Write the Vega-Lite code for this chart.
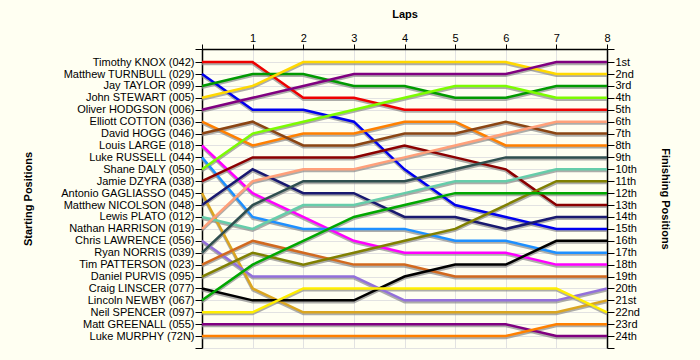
{
  "$schema": "https://vega.github.io/schema/vega-lite/v6.json",
  "autosize": "none",
  "width": 405,
  "height": 299,
  "padding": {"left": 202, "top": 49, "right": 93, "bottom": 12},
  "background": "#FFFFF2",
  "config": {
    "view": {"stroke": "#DDDDDD", "strokeWidth": 1},
    "font": "Liberation Sans",
    "axis": {
      "labelFont": "Liberation Sans",
      "labelFontSize": 11,
      "labelColor": "#000000",
      "titleFont": "Liberation Sans",
      "titleFontSize": 11,
      "titleFontWeight": "bold",
      "titleColor": "#000000",
      "domainColor": "#000000",
      "domainWidth": 1.5,
      "tickColor": "#000000",
      "tickWidth": 1,
      "gridColor": "#E2E2E2",
      "gridWidth": 1
    }
  },
  "data": {"values": [
    {"c":"042","lap":0,"pos":1},{"c":"042","lap":1,"pos":1},{"c":"042","lap":2,"pos":4},{"c":"042","lap":3,"pos":4},{"c":"042","lap":4,"pos":5},{"c":"042","lap":5,"pos":5},{"c":"042","lap":6,"pos":5},{"c":"042","lap":7,"pos":5},{"c":"042","lap":8,"pos":5},
    {"c":"029","lap":0,"pos":2},{"c":"029","lap":1,"pos":5},{"c":"029","lap":2,"pos":5},{"c":"029","lap":3,"pos":6},{"c":"029","lap":4,"pos":10},{"c":"029","lap":5,"pos":13},{"c":"029","lap":6,"pos":14},{"c":"029","lap":7,"pos":15},{"c":"029","lap":8,"pos":15},
    {"c":"099","lap":0,"pos":3},{"c":"099","lap":1,"pos":2},{"c":"099","lap":2,"pos":2},{"c":"099","lap":3,"pos":3},{"c":"099","lap":4,"pos":3},{"c":"099","lap":5,"pos":4},{"c":"099","lap":6,"pos":4},{"c":"099","lap":7,"pos":3},{"c":"099","lap":8,"pos":3},
    {"c":"005","lap":0,"pos":4},{"c":"005","lap":1,"pos":3},{"c":"005","lap":2,"pos":1},{"c":"005","lap":3,"pos":1},{"c":"005","lap":4,"pos":1},{"c":"005","lap":5,"pos":1},{"c":"005","lap":6,"pos":1},{"c":"005","lap":7,"pos":2},{"c":"005","lap":8,"pos":2},
    {"c":"006","lap":0,"pos":5},{"c":"006","lap":1,"pos":4},{"c":"006","lap":2,"pos":3},{"c":"006","lap":3,"pos":2},{"c":"006","lap":4,"pos":2},{"c":"006","lap":5,"pos":2},{"c":"006","lap":6,"pos":2},{"c":"006","lap":7,"pos":1},{"c":"006","lap":8,"pos":1},
    {"c":"036","lap":0,"pos":6},{"c":"036","lap":1,"pos":8},{"c":"036","lap":2,"pos":7},{"c":"036","lap":3,"pos":7},{"c":"036","lap":4,"pos":6},{"c":"036","lap":5,"pos":6},{"c":"036","lap":6,"pos":8},{"c":"036","lap":7,"pos":8},{"c":"036","lap":8,"pos":8},
    {"c":"046","lap":0,"pos":7},{"c":"046","lap":1,"pos":6},{"c":"046","lap":2,"pos":8},{"c":"046","lap":3,"pos":8},{"c":"046","lap":4,"pos":7},{"c":"046","lap":5,"pos":7},{"c":"046","lap":6,"pos":6},{"c":"046","lap":7,"pos":7},{"c":"046","lap":8,"pos":7},
    {"c":"018","lap":0,"pos":8},{"c":"018","lap":1,"pos":12},{"c":"018","lap":2,"pos":14},{"c":"018","lap":3,"pos":16},{"c":"018","lap":4,"pos":17},{"c":"018","lap":5,"pos":17},{"c":"018","lap":6,"pos":17},{"c":"018","lap":7,"pos":18},{"c":"018","lap":8,"pos":18},
    {"c":"044","lap":0,"pos":9},{"c":"044","lap":1,"pos":14},{"c":"044","lap":2,"pos":15},{"c":"044","lap":3,"pos":15},{"c":"044","lap":4,"pos":15},{"c":"044","lap":5,"pos":16},{"c":"044","lap":6,"pos":16},{"c":"044","lap":7,"pos":17},{"c":"044","lap":8,"pos":17},
    {"c":"050","lap":0,"pos":10},{"c":"050","lap":1,"pos":7},{"c":"050","lap":2,"pos":6},{"c":"050","lap":3,"pos":5},{"c":"050","lap":4,"pos":4},{"c":"050","lap":5,"pos":3},{"c":"050","lap":6,"pos":3},{"c":"050","lap":7,"pos":4},{"c":"050","lap":8,"pos":4},
    {"c":"038","lap":0,"pos":11},{"c":"038","lap":1,"pos":9},{"c":"038","lap":2,"pos":9},{"c":"038","lap":3,"pos":9},{"c":"038","lap":4,"pos":8},{"c":"038","lap":5,"pos":9},{"c":"038","lap":6,"pos":10},{"c":"038","lap":7,"pos":13},{"c":"038","lap":8,"pos":13},
    {"c":"045","lap":0,"pos":12},{"c":"045","lap":1,"pos":20},{"c":"045","lap":2,"pos":22},{"c":"045","lap":3,"pos":22},{"c":"045","lap":4,"pos":22},{"c":"045","lap":5,"pos":22},{"c":"045","lap":6,"pos":22},{"c":"045","lap":7,"pos":22},{"c":"045","lap":8,"pos":21},
    {"c":"048","lap":0,"pos":13},{"c":"048","lap":1,"pos":10},{"c":"048","lap":2,"pos":12},{"c":"048","lap":3,"pos":12},{"c":"048","lap":4,"pos":14},{"c":"048","lap":5,"pos":14},{"c":"048","lap":6,"pos":15},{"c":"048","lap":7,"pos":14},{"c":"048","lap":8,"pos":14},
    {"c":"012","lap":0,"pos":14},{"c":"012","lap":1,"pos":15},{"c":"012","lap":2,"pos":13},{"c":"012","lap":3,"pos":13},{"c":"012","lap":4,"pos":12},{"c":"012","lap":5,"pos":11},{"c":"012","lap":6,"pos":11},{"c":"012","lap":7,"pos":10},{"c":"012","lap":8,"pos":10},
    {"c":"019","lap":0,"pos":15},{"c":"019","lap":1,"pos":11},{"c":"019","lap":2,"pos":10},{"c":"019","lap":3,"pos":10},{"c":"019","lap":4,"pos":9},{"c":"019","lap":5,"pos":8},{"c":"019","lap":6,"pos":7},{"c":"019","lap":7,"pos":6},{"c":"019","lap":8,"pos":6},
    {"c":"056","lap":0,"pos":16},{"c":"056","lap":1,"pos":19},{"c":"056","lap":2,"pos":19},{"c":"056","lap":3,"pos":19},{"c":"056","lap":4,"pos":21},{"c":"056","lap":5,"pos":21},{"c":"056","lap":6,"pos":21},{"c":"056","lap":7,"pos":21},{"c":"056","lap":8,"pos":20},
    {"c":"039","lap":0,"pos":17},{"c":"039","lap":1,"pos":13},{"c":"039","lap":2,"pos":11},{"c":"039","lap":3,"pos":11},{"c":"039","lap":4,"pos":11},{"c":"039","lap":5,"pos":10},{"c":"039","lap":6,"pos":9},{"c":"039","lap":7,"pos":9},{"c":"039","lap":8,"pos":9},
    {"c":"023","lap":0,"pos":18},{"c":"023","lap":1,"pos":16},{"c":"023","lap":2,"pos":17},{"c":"023","lap":3,"pos":18},{"c":"023","lap":4,"pos":18},{"c":"023","lap":5,"pos":19},{"c":"023","lap":6,"pos":19},{"c":"023","lap":7,"pos":19},{"c":"023","lap":8,"pos":19},
    {"c":"095","lap":0,"pos":19},{"c":"095","lap":1,"pos":17},{"c":"095","lap":2,"pos":18},{"c":"095","lap":3,"pos":17},{"c":"095","lap":4,"pos":16},{"c":"095","lap":5,"pos":15},{"c":"095","lap":6,"pos":13},{"c":"095","lap":7,"pos":11},{"c":"095","lap":8,"pos":11},
    {"c":"077","lap":0,"pos":20},{"c":"077","lap":1,"pos":21},{"c":"077","lap":2,"pos":21},{"c":"077","lap":3,"pos":21},{"c":"077","lap":4,"pos":19},{"c":"077","lap":5,"pos":18},{"c":"077","lap":6,"pos":18},{"c":"077","lap":7,"pos":16},{"c":"077","lap":8,"pos":16},
    {"c":"067","lap":0,"pos":21},{"c":"067","lap":1,"pos":18},{"c":"067","lap":2,"pos":16},{"c":"067","lap":3,"pos":14},{"c":"067","lap":4,"pos":13},{"c":"067","lap":5,"pos":12},{"c":"067","lap":6,"pos":12},{"c":"067","lap":7,"pos":12},{"c":"067","lap":8,"pos":12},
    {"c":"097","lap":0,"pos":22},{"c":"097","lap":1,"pos":22},{"c":"097","lap":2,"pos":20},{"c":"097","lap":3,"pos":20},{"c":"097","lap":4,"pos":20},{"c":"097","lap":5,"pos":20},{"c":"097","lap":6,"pos":20},{"c":"097","lap":7,"pos":20},{"c":"097","lap":8,"pos":22},
    {"c":"055","lap":0,"pos":23},{"c":"055","lap":1,"pos":23},{"c":"055","lap":2,"pos":23},{"c":"055","lap":3,"pos":23},{"c":"055","lap":4,"pos":23},{"c":"055","lap":5,"pos":23},{"c":"055","lap":6,"pos":23},{"c":"055","lap":7,"pos":24},{"c":"055","lap":8,"pos":24},
    {"c":"72N","lap":0,"pos":24},{"c":"72N","lap":1,"pos":24},{"c":"72N","lap":2,"pos":24},{"c":"72N","lap":3,"pos":24},{"c":"72N","lap":4,"pos":24},{"c":"72N","lap":5,"pos":24},{"c":"72N","lap":6,"pos":24},{"c":"72N","lap":7,"pos":23},{"c":"72N","lap":8,"pos":23}
  ]},
  "layer": [
    {
      "mark": {"type": "line", "stroke": "#8A8A8A", "strokeWidth": 2.5, "opacity": 0.7, "yOffset": 1.8, "strokeJoin": "miter"},
      "encoding": {
        "x": {"field": "lap", "type": "quantitative", "scale": {"domain": [0, 8], "nice": false, "zero": false},
              "axis": {"orient": "top", "title": "Laps", "values": [0,1,2,3,4,5,6,7,8], "labelExpr": "datum.value == 0 ? '' : datum.label", "tickSize": 5, "labelPadding": 1, "titlePadding": 13, "grid": true, "labelFlush": false}},
        "y": {"field": "pos", "type": "quantitative", "scale": {"domain": [-0.1, 25], "reverse": true, "nice": false, "zero": false},
              "axis": {"orient": "left", "title": "Starting Positions", "values": [-0.1,1,2,3,4,5,6,7,8,9,10,11,12,13,14,15,16,17,18,19,20,21,22,23,24,25],
                       "labelExpr": "datum.value >= 1 && datum.value <= 24 ? ['Timothy KNOX (042)','Matthew TURNBULL (029)','Jay TAYLOR (099)','John STEWART (005)','Oliver HODGSON (006)','Elliott COTTON (036)','David HOGG (046)','Louis LARGE (018)','Luke RUSSELL (044)','Shane DALY (050)','Jamie DZYRA (038)','Antonio GAGLIASSO (045)','Matthew NICOLSON (048)','Lewis PLATO (012)','Nathan HARRISON (019)','Chris LAWRENCE (056)','Ryan NORRIS (039)','Tim PATTERSON (023)','Daniel PURVIS (095)','Craig LINSCER (077)','Lincoln NEWBY (067)','Neil SPENCER (097)','Matt GREENALL (055)','Luke MURPHY (72N)'][datum.value - 1] : ''",
                       "tickSize": 7, "labelPadding": 1, "titlePadding": 27, "grid": true, "labelFlush": false, "labelOverlap": false}},
        "detail": {"field": "c"}
      }
    },
    {
      "mark": {"type": "line", "strokeWidth": 2.5, "strokeJoin": "miter"},
      "encoding": {
        "x": {"field": "lap", "type": "quantitative"},
        "y": {"field": "pos", "type": "quantitative",
              "axis": {"orient": "right", "title": "Finishing Positions", "values": [-0.1,1,2,3,4,5,6,7,8,9,10,11,12,13,14,15,16,17,18,19,20,21,22,23,24,25],
                       "labelExpr": "datum.value < 1 || datum.value > 24 ? '' : datum.value + ((datum.value == 1 || datum.value == 21) ? 'st' : (datum.value == 2 || datum.value == 22) ? 'nd' : (datum.value == 3 || datum.value == 23) ? 'rd' : 'th')",
                       "tickSize": 7, "labelPadding": 1, "titlePadding": 20, "grid": false, "labelFlush": false, "labelOverlap": false}},
        "color": {"field": "c", "type": "nominal", "legend": null,
                  "scale": {"domain": ["042","029","099","005","006","036","046","018","044","050","038","045","048","012","019","056","039","023","095","077","067","097","055","72N"],
                            "range": ["#EE0000","#0000EE","#009A00","#FFD800","#800080","#FF8000","#8B4513","#FF00FF","#1E90FF","#7CFC00","#8B0000","#DAA520","#191970","#66CDAA","#FFA07A","#9370DB","#2F4F4F","#D2691E","#808000","#000000","#00A800","#FFEE00","#800080","#FF8000"]}}
      }
    }
  ],
  "resolve": {"axis": {"y": "independent"}}
}
